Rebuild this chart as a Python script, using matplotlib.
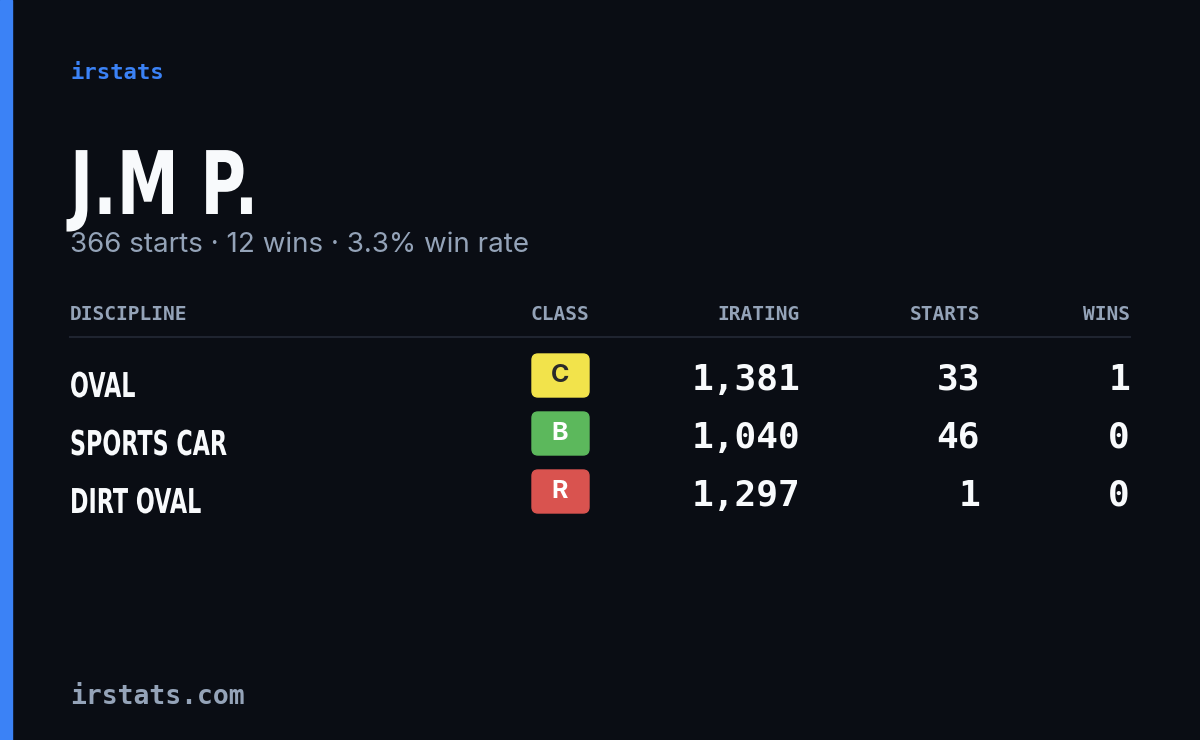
import matplotlib
matplotlib.use('Agg')
import matplotlib.pyplot as plt
from matplotlib.patches import FancyBboxPatch, Rectangle, PathPatch
from matplotlib.textpath import TextPath
from matplotlib.font_manager import FontProperties
from matplotlib.transforms import Affine2D

driver = 'J.M P.'
total_starts = 366
total_wins = 12
win_rate = 3.3
headers = ['DISCIPLINE', 'CLASS', 'IRATING', 'STARTS', 'WINS']
disciplines = ['OVAL', 'SPORTS CAR', 'DIRT OVAL']
classes = ['C', 'B', 'R']
iratings = [1381, 1040, 1297]
starts = [33, 46, 1]
wins = [1, 0, 0]

class_colors = {'C': '#f2e34b', 'B': '#5cb85c', 'R': '#d9534f'}
bg = '#0a0d14'
grey = '#94a3b8'
white = '#f8fafc'
mono = 'DejaVu Sans Mono'
boldprop = FontProperties(family='DejaVu Sans', weight='bold')


def narrow_text(ax, x, y_base, s, cap_px, xscale):
    # condensed bold text: DejaVu Sans Bold squeezed horizontally
    size = cap_px / 0.73
    tp = TextPath((0, 0), s, size=size, prop=boldprop)
    tr = Affine2D().scale(xscale, -1).translate(x, y_base)
    ax.add_patch(PathPatch(tr.transform_path(tp), color=white, lw=0))


fig = plt.figure(figsize=(12, 7.4), dpi=100)
fig.patch.set_facecolor(bg)
ax = fig.add_axes([0, 0, 1, 1])
ax.set_xlim(0, 1200)
ax.set_ylim(740, 0)
ax.axis('off')
ax.add_patch(Rectangle((0, 0), 12, 740, color='#3b82f6'))

ax.text(70, 73, 'irstats', family=mono, fontsize=16, fontweight='bold', color='#3b82f6', va='center')
narrow_text(ax, 70, 214, driver, 64, 0.71)
ax.text(70, 245, f'{total_starts} starts \u00b7 {total_wins} wins \u00b7 {win_rate}% win rate',
        family='Inter', fontsize=20, color=grey, va='center')

hx = [70, 560, 800, 980, 1130]
ha = ['left', 'center', 'right', 'right', 'right']
for h, x, a in zip(headers, hx, ha):
    ax.text(x, 314, h, family=mono, fontsize=14, fontweight='bold', color=grey, va='center', ha=a)
ax.plot([70, 1130], [337, 337], color='#1f2430', lw=1.5)

for i, d in enumerate(disciplines):
    y = 380 + 58 * i
    narrow_text(ax, 70, y + 17, d, 25, 0.65)
    ax.add_patch(FancyBboxPatch((532, y - 26), 57, 43, boxstyle='round,pad=0,rounding_size=6',
                                color=class_colors[classes[i]]))
    ax.text(560, y - 4, classes[i], family='Inter', fontsize=18, fontweight='bold',
            color='#2a2a2a' if classes[i] == 'C' else 'white', ha='center', va='center')
    ax.text(800, y, f'{iratings[i]:,}', family=mono, fontsize=26, fontweight='bold', color=white, ha='right', va='center')
    ax.text(980, y, str(starts[i]), family=mono, fontsize=26, fontweight='bold', color=white, ha='right', va='center')
    ax.text(1130, y, str(wins[i]), family=mono, fontsize=26, fontweight='bold', color=white, ha='right', va='center')

ax.text(70, 697, 'irstats.com', family=mono, fontsize=19, fontweight='bold', color=grey, va='center')

fig.savefig('out.png', dpi=100, facecolor=bg)
